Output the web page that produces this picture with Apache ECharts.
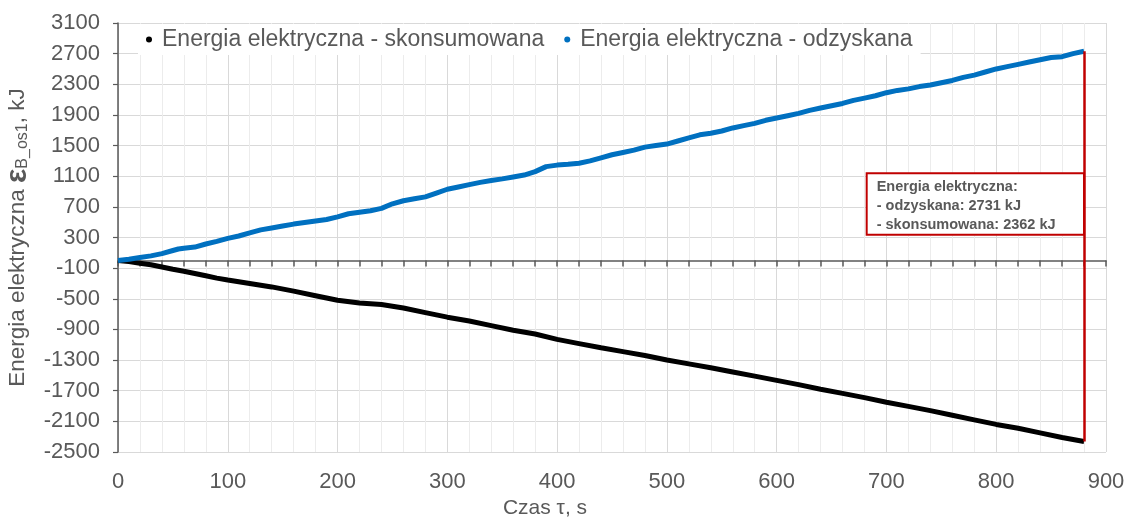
<!DOCTYPE html>
<html><head><meta charset="utf-8">
<script src="https://cdn.jsdelivr.net/npm/echarts@6/dist/echarts.min.js"></script>
<style>html,body{margin:0;padding:0;background:#fff}#c{width:1128px;height:517px}</style>
</head><body><div id="c"></div>
<script>
// Time (s) and cumulative energy (kJ)
const timeBlue = [0,10,20,30,40,50,55,60,70,80,90,100,110,120,130,140,150,160,170,180,190,200,210,220,230,240,250,260,270,280,290,300,310,320,330,340,350,360,370,380,390,400,410,420,430,440,450,460,470,480,490,500,510,520,530,540,550,560,570,580,590,600,610,620,630,640,650,660,670,680,690,700,710,720,730,740,750,760,770,780,790,800,810,820,830,840,850,860,870,880];
const energyRecovered = [0,15,40,60,90,130,150,160,175,215,250,289,320,360,400,425,450,475,495,515,535,570,610,630,650,680,740,780,805,830,880,930,960,990,1020,1045,1065,1090,1115,1160,1225,1245,1255,1270,1300,1340,1380,1410,1440,1480,1500,1520,1560,1600,1640,1660,1690,1730,1760,1790,1830,1860,1890,1920,1960,1990,2020,2050,2090,2120,2150,2190,2220,2240,2270,2290,2320,2350,2390,2420,2460,2500,2530,2560,2590,2620,2650,2660,2700,2731];
const timeBlack = [0,10,20,30,40,50,60,70,80,90,100,120,140,160,180,200,220,240,260,280,300,320,340,360,380,400,420,440,460,480,500,520,540,560,580,600,620,640,660,680,700,720,740,760,780,800,820,840,860,880];
const energyConsumed = [0,-15,-35,-55,-85,-115,-140,-170,-200,-230,-255,-300,-345,-400,-460,-520,-555,-575,-620,-680,-740,-790,-850,-910,-960,-1030,-1085,-1140,-1190,-1240,-1300,-1350,-1400,-1455,-1510,-1565,-1620,-1680,-1735,-1790,-1850,-1905,-1960,-2020,-2080,-2140,-2190,-2250,-2310,-2362];
const seriesNames = ['Energia elektryczna - skonsumowana','Energia elektryczna - odzyskana'];
const totalRecovered = 2731, totalConsumed = 2362, endTime = 880;
const boxCorner1 = [682, 1140], boxCorner2 = [880, 335];
const yMin = -2500, yMax = 3100, yStep = 400;
const xMin = 0, xMax = 900, xStep = 100, xMinorStep = 20;

const FONT = "'Liberation Sans', Arial, sans-serif";
const GREY = '#595959';
const chart = echarts.init(document.getElementById('c'), null, {renderer:'canvas'});
const pair = (xs, ys) => xs.map((x,i)=>[x, ys[i]]);
chart.setOption({
  animation:false,
  backgroundColor:'#fff',
  textStyle:{fontFamily:FONT},
  grid:{left:118, right:22, top:23, bottom:65, containLabel:false, outerBoundsMode:'none'},
  legend:{
    data:seriesNames, left:138, top:24, padding:[4,8], itemGap:20,
    backgroundColor:'#fff', icon:'circle', itemWidth:6, itemHeight:6,
    textStyle:{fontSize:23, color:GREY, fontFamily:FONT, padding:[0,0,0,5]}
  },
  xAxis:[{
    type:'value', min:xMin, max:xMax, interval:xStep, position:'bottom',
    axisLine:{show:false, onZero:false}, axisTick:{show:false},
    axisLabel:{fontSize:22, color:GREY, margin:19, fontFamily:FONT, formatter:v=>String(v)},
    splitLine:{show:true, lineStyle:{color:'#d9d9d9', width:1}},
    minorTick:{show:false, splitNumber:5},
    minorSplitLine:{show:true, lineStyle:{color:'#ececec', width:1}},
    name:'Czas τ, s', nameLocation:'middle', nameGap:44,
    nameTextStyle:{fontSize:21, color:GREY, fontFamily:FONT, padding:[0,134,0,0]}
  },{
    type:'value', min:xMin, max:xMax, interval:xMinorStep, position:'top',
    axisLine:{show:true, onZero:true, onZeroAxisIndex:0, lineStyle:{color:GREY, width:1.5}},
    axisTick:{show:true, inside:true, length:6, interval:0, lineStyle:{color:GREY, width:1.5}},
    axisLabel:{show:false}, splitLine:{show:false}
  }],
  yAxis:{
    type:'value', min:yMin, max:yMax, interval:yStep,
    axisLine:{show:true, onZero:false, lineStyle:{color:GREY, width:1.5}},
    axisTick:{show:true, length:5, lineStyle:{color:GREY, width:1.2}},
    axisLabel:{fontSize:22, color:GREY, margin:18, fontFamily:FONT, formatter:v=>String(v)},
    splitLine:{show:true, lineStyle:{color:'#d9d9d9', width:1}},
    name:'Energia elektryczna {e|ε}{s|B_os1}, kJ', nameLocation:'middle', nameRotate:90, nameGap:73,
    nameTextStyle:{fontSize:22.5, color:GREY, fontFamily:FONT,
      rich:{
        e:{fontSize:30, fontWeight:'bold', color:GREY, fontFamily:FONT},
        s:{fontSize:16, color:GREY, fontFamily:FONT, padding:[10,0,0,0]}
      }}
  },
  series:[{
    name:seriesNames[0], type:'line', xAxisIndex:0, yAxisIndex:0,
    data:pair(timeBlack, energyConsumed), showSymbol:false, symbol:'circle',
    lineStyle:{color:'#000', width:5}, itemStyle:{color:'#000'}, emphasis:{disabled:true}, z:3
  },{
    name:seriesNames[1], type:'line', xAxisIndex:0, yAxisIndex:0,
    data:pair(timeBlue, energyRecovered), showSymbol:false, symbol:'circle',
    lineStyle:{color:'#0070C0', width:5}, itemStyle:{color:'#0070C0'}, emphasis:{disabled:true}, z:3,
    markLine:{
      silent:true, symbol:['none','none'], animation:false,
      lineStyle:{color:'#C00000', width:2.5, type:'solid'}, label:{show:false},
      data:[[{coord:[endTime, totalRecovered]},{coord:[endTime, -totalConsumed]}]]
    },
    markArea:{
      silent:true,
      itemStyle:{color:'#fff', borderColor:'#C00000', borderWidth:2, opacity:1},
      label:{show:true, position:'insideTopLeft', distance:0, padding:[5,0,0,11],
        fontSize:14.5, fontWeight:'bold', lineHeight:19, color:GREY, fontFamily:FONT},
      data:[[{name:'Energia elektryczna:\n- odzyskana: '+totalRecovered+' kJ\n- skonsumowana: '+totalConsumed+' kJ', coord:boxCorner1},{coord:boxCorner2}]]
    }
  }]
});
</script></body></html>
